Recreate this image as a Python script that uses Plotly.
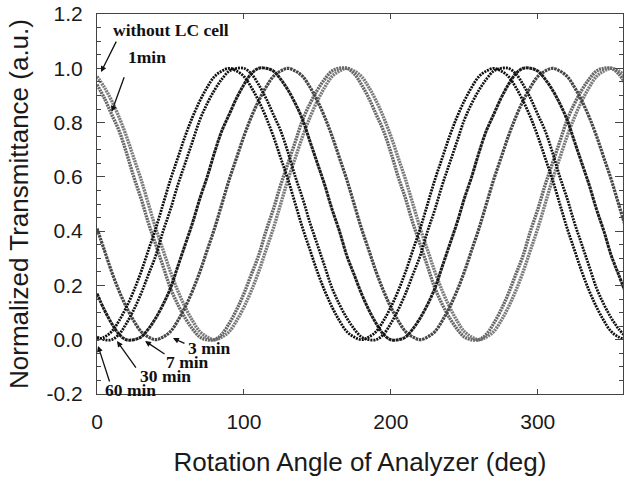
import plotly.graph_objects as go

# Analyzer rotation angle (deg), sampled every 5 degrees
ANGLE = list(range(0, 361, 5))

# Normalized transmittance for each measurement condition
T_NO_CELL = [0.97, 0.93, 0.88, 0.82, 0.75, 0.67, 0.59, 0.50, 0.41, 0.33, 0.25, 0.18, 0.12,
             0.07, 0.03, 0.01, 0.00, 0.01, 0.03, 0.07, 0.12, 0.18, 0.25, 0.33, 0.41, 0.50,
             0.59, 0.67, 0.75, 0.82, 0.88, 0.93, 0.97, 0.99, 1.00, 0.99, 0.97,
             0.93, 0.88, 0.82, 0.75, 0.67, 0.59, 0.50, 0.41, 0.33, 0.25, 0.18, 0.12,
             0.07, 0.03, 0.01, 0.00, 0.01, 0.03, 0.07, 0.12, 0.18, 0.25, 0.33, 0.41, 0.50,
             0.59, 0.67, 0.75, 0.82, 0.88, 0.93, 0.97, 0.99, 1.00, 0.99, 0.97]

T_1MIN = [0.94, 0.89, 0.83, 0.77, 0.69, 0.60, 0.52, 0.43, 0.35, 0.27, 0.19, 0.13, 0.08,
          0.04, 0.01, 0.00, 0.00, 0.02, 0.06, 0.11, 0.17, 0.24, 0.31, 0.40, 0.48, 0.57,
          0.65, 0.73, 0.81, 0.87, 0.92, 0.96, 0.99, 1.00, 1.00, 0.98, 0.94,
          0.89, 0.83, 0.77, 0.69, 0.60, 0.52, 0.43, 0.35, 0.27, 0.19, 0.13, 0.08,
          0.04, 0.01, 0.00, 0.00, 0.02, 0.06, 0.11, 0.17, 0.24, 0.31, 0.40, 0.48, 0.57,
          0.65, 0.73, 0.81, 0.87, 0.92, 0.96, 0.99, 1.00, 1.00, 0.98, 0.94]

T_3MIN = [0.41, 0.33, 0.25, 0.18, 0.12, 0.07, 0.03, 0.01, 0.00, 0.01, 0.03, 0.07, 0.12,
          0.18, 0.25, 0.33, 0.41, 0.50, 0.59, 0.67, 0.75, 0.82, 0.88, 0.93, 0.97, 0.99,
          1.00, 0.99, 0.97, 0.93, 0.88, 0.82, 0.75, 0.67, 0.59, 0.50, 0.41,
          0.33, 0.25, 0.18, 0.12, 0.07, 0.03, 0.01, 0.00, 0.01, 0.03, 0.07, 0.12,
          0.18, 0.25, 0.33, 0.41, 0.50, 0.59, 0.67, 0.75, 0.82, 0.88, 0.93, 0.97, 0.99,
          1.00, 0.99, 0.97, 0.93, 0.88, 0.82, 0.75, 0.67, 0.59, 0.50, 0.41]

T_7MIN = [0.17, 0.11, 0.06, 0.02, 0.00, 0.00, 0.01, 0.04, 0.08, 0.13, 0.19, 0.27, 0.35,
          0.43, 0.52, 0.60, 0.69, 0.77, 0.83, 0.89, 0.94, 0.98, 1.00, 1.00, 0.99, 0.96,
          0.92, 0.87, 0.81, 0.73, 0.65, 0.57, 0.48, 0.40, 0.31, 0.24, 0.17,
          0.11, 0.06, 0.02, 0.00, 0.00, 0.01, 0.04, 0.08, 0.13, 0.19, 0.27, 0.35,
          0.43, 0.52, 0.60, 0.69, 0.77, 0.83, 0.89, 0.94, 0.98, 1.00, 1.00, 0.99, 0.96,
          0.92, 0.87, 0.81, 0.73, 0.65, 0.57, 0.48, 0.40, 0.31, 0.24, 0.17]

T_30MIN = [0.01, 0.00, 0.00, 0.02, 0.06, 0.11, 0.17, 0.24, 0.31, 0.40, 0.48, 0.57, 0.65,
           0.73, 0.81, 0.87, 0.92, 0.96, 0.99, 1.00, 1.00, 0.98, 0.94, 0.89, 0.83, 0.77,
           0.69, 0.60, 0.52, 0.43, 0.35, 0.27, 0.19, 0.13, 0.08, 0.04, 0.01,
           0.00, 0.00, 0.02, 0.06, 0.11, 0.17, 0.24, 0.31, 0.40, 0.48, 0.57, 0.65,
           0.73, 0.81, 0.87, 0.92, 0.96, 0.99, 1.00, 1.00, 0.98, 0.94, 0.89, 0.83, 0.77,
           0.69, 0.60, 0.52, 0.43, 0.35, 0.27, 0.19, 0.13, 0.08, 0.04, 0.01]

T_60MIN = [0.00, 0.01, 0.03, 0.07, 0.12, 0.18, 0.25, 0.33, 0.41, 0.50, 0.59, 0.67, 0.75,
           0.82, 0.88, 0.93, 0.97, 0.99, 1.00, 0.99, 0.97, 0.93, 0.88, 0.82, 0.75, 0.67,
           0.59, 0.50, 0.41, 0.33, 0.25, 0.18, 0.12, 0.07, 0.03, 0.01, 0.00,
           0.01, 0.03, 0.07, 0.12, 0.18, 0.25, 0.33, 0.41, 0.50, 0.59, 0.67, 0.75,
           0.82, 0.88, 0.93, 0.97, 0.99, 1.00, 0.99, 0.97, 0.93, 0.88, 0.82, 0.75, 0.67,
           0.59, 0.50, 0.41, 0.33, 0.25, 0.18, 0.12, 0.07, 0.03, 0.01, 0.00]

X_TICKS = [0, 100, 200, 300]
Y_TICKS = [-0.2, 0.0, 0.2, 0.4, 0.6, 0.8, 1.0, 1.2]
Y_TICK_TEXT = ["-0.2", "0.0", "0.2", "0.4", "0.6", "0.8", "1.0", "1.2"]

# (label, values, colour, width, dash)
SERIES = [
    ("without LC cell", T_NO_CELL, "#7c7c7c", 3.4, "2px,0.8px"),
    ("1min", T_1MIN, "#686868", 3.4, "2px,0.8px"),
    ("3 min", T_3MIN, "#464646", 3.2, "2.5px,0.8px"),
    ("7 min", T_7MIN, "#1c1c1c", 3.0, "3px,0.6px"),
    ("30 min", T_30MIN, "#121212", 2.8, "2px,1px"),
    ("60 min", T_60MIN, "#0e0e0e", 2.8, "2px,1px"),
]

fig = go.Figure()
for name, vals, color, width, dash in SERIES:
    fig.add_trace(go.Scatter(
        x=ANGLE, y=vals, mode="lines", name=name, showlegend=False,
        line=dict(color=color, width=width, dash=dash, shape="spline", smoothing=1.0),
    ))

label_font = dict(family="Liberation Serif, Times New Roman, serif", size=17.5, color="#111111")

# label text: (text, x, y)
LABELS = [
    ("<b>without LC cell</b>", 10.2, 1.141),
    ("<b>1min</b>", 20.4, 1.042),
    ("<b>3 min</b>", 61.0, -0.032),
    ("<b>7 min</b>", 46.3, -0.082),
    ("<b>30 min</b>", 28.6, -0.134),
    ("<b>60 min</b>", 4.8, -0.184),
]
# pointer arrows: (tip x, tip y, tail offset x px, tail offset y px)
ARROWS = [
    (2.7, 0.986, 16, -32),
    (10.0, 0.84, 13, -36),
    (51.7, 0.006, 13, 6),
    (32.7, -0.005, 21, 14),
    (13.6, -0.005, 20, 28),
    (0.7, -0.023, 12, 37),
]

annotations = []
for text, x, y in LABELS:
    annotations.append(dict(x=x, y=y, xref="x", yref="y", text=text, showarrow=False,
                            xanchor="left", yanchor="middle", font=label_font,
                            borderpad=0))
for x, y, ax, ay in ARROWS:
    annotations.append(dict(x=x, y=y, xref="x", yref="y", text="", showarrow=True,
                            ax=ax, ay=ay, arrowhead=2, arrowsize=0.9, arrowwidth=1.3,
                            arrowcolor="#111111", standoff=0, startstandoff=0))

axis_font = dict(family="Liberation Sans, Arial, sans-serif", size=21, color="#1a1a1a")
title_font = dict(family="Liberation Sans, Arial, sans-serif", size=26, color="#1a1a1a")

fig.update_layout(
    width=626, height=483,
    margin=dict(l=97, r=3, t=14, b=89),
    paper_bgcolor="white", plot_bgcolor="white",
    annotations=annotations,
    xaxis=dict(
        range=[0, 358], tickvals=X_TICKS, ticktext=[str(v) for v in X_TICKS],
        ticks="inside", ticklen=5, tickwidth=1, tickcolor="#444444",
        showline=True, linecolor="#444444", linewidth=1, mirror="ticks",
        showgrid=False, zeroline=False, tickfont=axis_font, ticklabelstandoff=9,
        title=dict(text="Rotation Angle of Analyzer (deg)", font=title_font, standoff=20),
    ),
    yaxis=dict(
        range=[-0.2, 1.2], tickvals=Y_TICKS, ticktext=Y_TICK_TEXT,
        ticks="inside", ticklen=8, tickwidth=1, tickcolor="#444444",
        minor=dict(dtick=0.05, ticks="inside", ticklen=4, tickcolor="#444444", showgrid=False),
        showline=True, linecolor="#444444", linewidth=1, mirror="ticks",
        showgrid=False, zeroline=False, tickfont=axis_font, ticklabelstandoff=9,
        title=dict(text="Normalized Transmittance (a.u.)", font=title_font, standoff=10),
    ),
)

fig.write_html("out.html")
